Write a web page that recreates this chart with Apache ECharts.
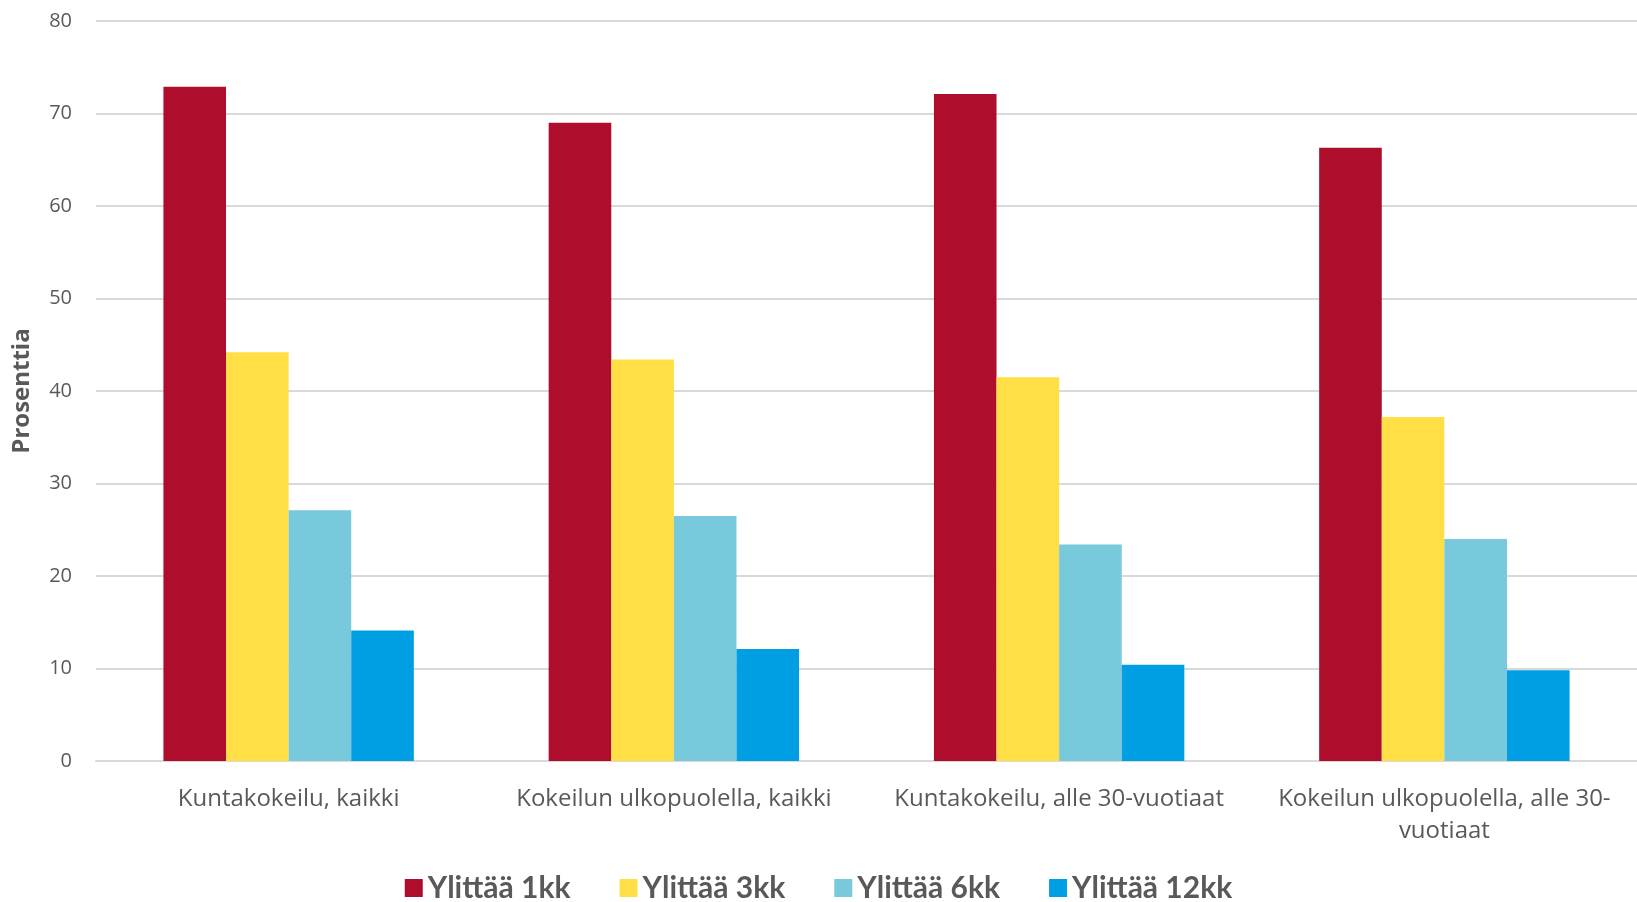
<!DOCTYPE html>
<html>
<head>
<meta charset="utf-8">
<style>
  html, body { margin: 0; padding: 0; background: #fff; }
  #chart { width: 1637px; height: 902px; }
</style>
<script src="https://cdn.jsdelivr.net/npm/echarts@6/dist/echarts.min.js"></script>
</head>
<body>
<div id="chart"></div>
<script>
// data
var categories = [
  "Kuntakokeilu, kaikki",
  "Kokeilun ulkopuolella, kaikki",
  "Kuntakokeilu, alle 30-vuotiaat",
  "Kokeilun ulkopuolella, alle 30-\nvuotiaat"
];
var seriesNames = ["Ylittää 1kk", "Ylittää 3kk", "Ylittää 6kk", "Ylittää 12kk"];
var yli1kk = [72.9, 69.0, 72.1, 66.3];
var yli3kk = [44.2, 43.4, 41.5, 37.2];
var yli6kk = [27.1, 26.5, 23.4, 24.0];
var yli12kk = [14.1, 12.1, 10.4, 9.8];

var colors = ["#af0d2c", "#ffdf45", "#77c9db", "#009fe3"];
var font = "'Open Sans', sans-serif";
var textColor = "#595959";

var chart = echarts.init(document.getElementById("chart"));

function bar(name, values) {
  return {
    name: name,
    type: "bar",
    data: values,
    barGap: "0%",
    barCategoryGap: "35%"
  };
}

chart.setOption({
  animation: false,
  color: colors,
  grid: { left: 96, right: 0, top: 21, bottom: 141 },
  legend: {
    top: 868,
    left: "center",
    itemWidth: 18,
    itemHeight: 18,
    itemGap: 49,
    icon: "rect",
    textStyle: { fontFamily: "Lato, sans-serif", fontWeight: "bold", fontSize: 30, lineHeight: 30, color: textColor },
    data: seriesNames
  },
  xAxis: {
    type: "category",
    data: categories,
    axisLine: { lineStyle: { color: "#d9d9d9", width: 2 } },
    axisTick: { show: false },
    axisLabel: {
      interval: 0,
      margin: 22,
      fontFamily: font,
      fontSize: 24,
      lineHeight: 32,
      color: textColor
    }
  },
  yAxis: {
    type: "value",
    min: 0,
    max: 80,
    interval: 10,
    name: "Prosenttia",
    nameLocation: "middle",
    nameGap: 62,
    nameTextStyle: { fontFamily: font, fontWeight: "bold", fontSize: 24, color: textColor },
    axisLine: { show: false },
    axisTick: { show: false },
    axisLabel: { margin: 24, fontFamily: font, fontSize: 20, color: textColor },
    splitLine: { lineStyle: { color: "#d9d9d9", width: 2 } }
  },
  series: [
    bar(seriesNames[0], yli1kk),
    bar(seriesNames[1], yli3kk),
    bar(seriesNames[2], yli6kk),
    bar(seriesNames[3], yli12kk)
  ]
});
</script>
</body>
</html>
